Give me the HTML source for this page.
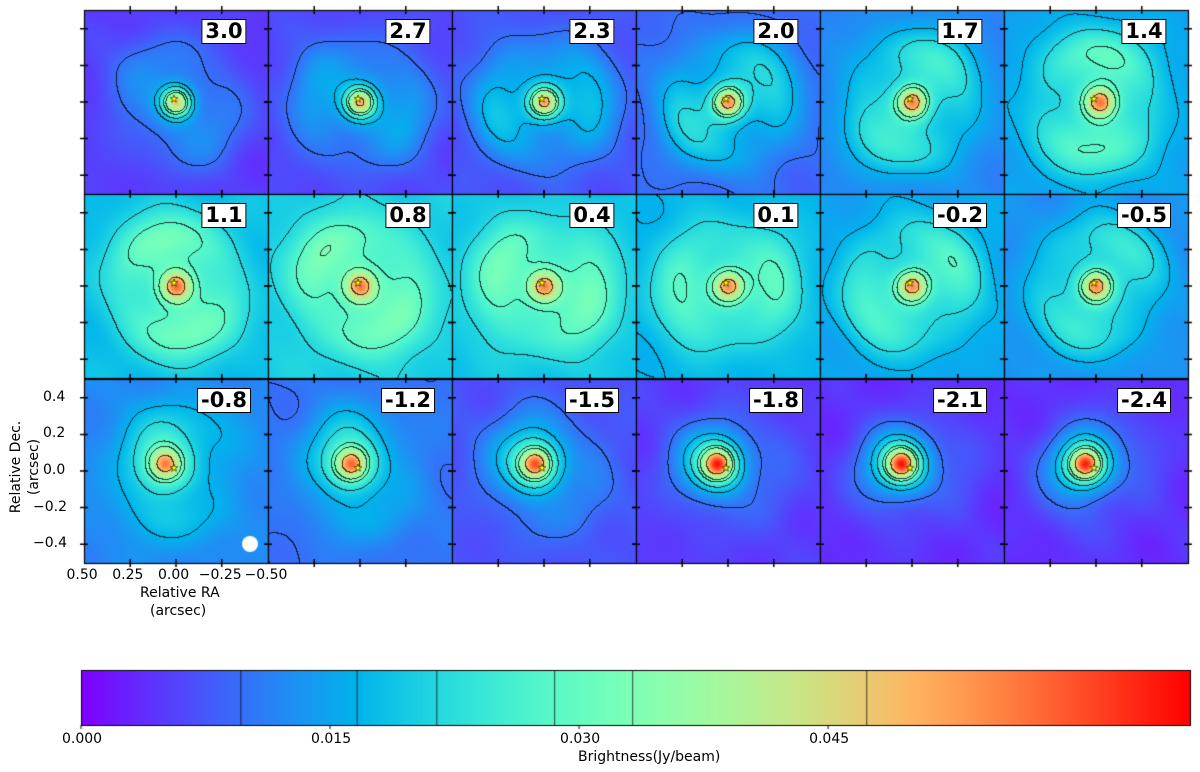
<!DOCTYPE html>
<html><head><meta charset="utf-8"><style>
body{margin:0;background:#fff;width:1200px;height:772px;overflow:hidden;position:relative;font-family:"Liberation Sans","DejaVu Sans",sans-serif}
canvas{position:absolute;left:0;top:0}
.lbl{position:absolute;background:#fff;border:1px solid #000;font-weight:bold;font-size:21px;line-height:23px;padding:0 3px;transform:translateX(-50%);font-family:"DejaVu Sans","Liberation Sans",sans-serif}
.t{position:absolute;font-size:14px;color:#000;white-space:nowrap;font-family:"DejaVu Sans","Liberation Sans",sans-serif}
</style></head><body>
<canvas id="c" width="1200" height="772"></canvas>
<div class="t" style="left:140px;top:585px">Relative RA</div>
<div class="t" style="left:150px;top:603px">(arcsec)</div>
<div class="t" style="left:-30px;top:459px;transform:rotate(-90deg)">Relative Dec.</div>
<div class="t" style="left:6px;top:459px;transform:rotate(-90deg)">(arcsec)</div>
<div class="t" style="left:578px;top:749px">Brightness(Jy/beam)</div>
<div id="ov"></div>
<script>
const velocities=["3.0","2.7","2.3","2.0","1.7","1.4","1.1","0.8","0.4","0.1","-0.2","-0.5","-0.8","-1.2","-1.5","-1.8","-2.1","-2.4"];
const background=[0.005,0.006,0.007,0.009,0.012,0.015,0.018,0.020,0.019,0.017,0.015,0.013,0.012,0.010,0.007,0.005,0.004,0.004];
const ringAmp=[0.006,0.008,0.010,0.011,0.012,0.013,0.013,0.012,0.012,0.011,0.011,0.010,0.006,0.005,0.004,0.003,0.003,0.003];
const compactAmp=[0.012,0.013,0.014,0.015,0.015,0.014,0.013,0.012,0.012,0.012,0.013,0.014,0.020,0.022,0.024,0.026,0.026,0.026];
const peakAmp=[0.030,0.030,0.030,0.030,0.028,0.027,0.026,0.024,0.024,0.025,0.026,0.027,0.024,0.027,0.030,0.034,0.035,0.035];
const peakX=[0,0,0,0,0,-0.02,0,0,0,0,0,0,0.06,0.05,0.05,0.06,0.06,0.06];
const peakY=[0,0,0,0,0,0,0,0,0,0,0,0,0.04,0.04,0.04,0.04,0.04,0.04];
const contourLevels=[0.0096,0.0166,0.0214,0.0285,0.0332,0.0473];
const cbTicks=[0,0.015,0.030,0.045];
const VMAX=0.0668;
const X0=84,Y0=10,PW=184,PH=184.3,SC=183;
const cv=document.getElementById('c'),ctx=cv.getContext('2d');
function cmap(v){let x=Math.max(0,Math.min(1,v/VMAX));return [Math.min(255,Math.abs(2*x-0.5)*255),Math.sin(Math.PI*x)*255,Math.cos(Math.PI*x/2)*255];}
function field(k,ax,ay){
  const dx=ax-peakX[k],dy=ay-peakY[k];
  const r=Math.hypot(ax,ay),th=Math.atan2(ay,ax);
  const tex=0.0008*(Math.sin(ax*11+k)*Math.cos(ay*9-k*0.7)+Math.sin((ax-ay)*14+k*1.3)*0.5);
  const ring=ringAmp[k]*Math.exp(-Math.pow((r-0.28)/0.14,2))*(0.75+0.3*Math.sin(th*2+k*0.9));
  const comp=compactAmp[k]*Math.exp(-(dx*dx+dy*dy)/(2*0.12*0.12));
  const pk=peakAmp[k]*Math.exp(-(dx*dx+dy*dy)/(2*0.05*0.05));
  return background[k]+ring+comp+pk+tex;
}
function lev(v){let n=0;for(const c of contourLevels)if(v>=c)n++;return n;}
const W=184,H=184;
for(let k=0;k<18;k++){
  const col=k%6,row=Math.floor(k/6);
  const px=Math.round(X0+col*PW),py=Math.round(Y0+row*PH);
  const img=ctx.createImageData(W,H);
  const L=new Array(W*H);const V=new Array(W*H);
  for(let j=0;j<H;j++)for(let i=0;i<W;i++){
    const ax=(W/2-i)/SC,ay=(H/2-j)/SC;const v=field(k,ax,ay);V[j*W+i]=v;L[j*W+i]=lev(v);}
  for(let j=0;j<H;j++)for(let i=0;i<W;i++){
    const id=j*W+i;let c=cmap(V[id]);
    const l=L[id];
    if((i<W-1&&L[id+1]!==l)||(j<H-1&&L[id+W]!==l)){c=[c[0]*0.25,c[1]*0.25,c[2]*0.25];}
    img.data[id*4]=c[0];img.data[id*4+1]=c[1];img.data[id*4+2]=c[2];img.data[id*4+3]=255;}
  ctx.putImageData(img,px,py);
  ctx.fillStyle='#ff0';ctx.strokeStyle='#000';ctx.lineWidth=0.6;
  ctx.beginPath();const sx=px+W/2-2,sy=py+H/2-3;
  for(let s=0;s<10;s++){const rr=s%2?1.6:4,a=-Math.PI/2+s*Math.PI/5;ctx.lineTo(sx+rr*Math.cos(a),sy+rr*Math.sin(a));}
  ctx.closePath();ctx.fill();ctx.stroke();
  ctx.strokeStyle='#000';ctx.lineWidth=1.2;ctx.strokeRect(px+0.5,py+0.5,W,H);
  ctx.lineWidth=1.5;
  for(const t of [-0.4,-0.2,0,0.2,0.4]){const yy=py+H/2-t*SC;
    ctx.beginPath();ctx.moveTo(px-4,yy);ctx.lineTo(px+4,yy);ctx.moveTo(px+W-4,yy);ctx.lineTo(px+W+4,yy);ctx.stroke();}
  for(const t of [-0.25,0,0.25]){const xx=px+W/2-t*SC;
    ctx.beginPath();ctx.moveTo(xx,py-4);ctx.lineTo(xx,py+4);ctx.moveTo(xx,py+H-4);ctx.lineTo(xx,py+H+4);ctx.stroke();}
  const d=document.createElement('div');d.className='lbl';d.textContent=velocities[k];
  d.style.left=(px+140)+'px';d.style.top=(py+9)+'px';
  
  
  document.getElementById('ov').appendChild(d);
}
ctx.fillStyle='#fff';ctx.beginPath();ctx.arc(250,544,8,0,Math.PI*2);ctx.fill();
function addT(txt,x,y,name){const d=document.createElement('div');d.className='t';d.textContent=txt;d.style.left=x+'px';d.style.top=y+'px';
  
  
  document.getElementById('ov').appendChild(d);}
const py3=Math.round(Y0+2*PH),ycen=py3+H/2;
const yt=[0.4,0.2,0.0,-0.2,-0.4];
yt.forEach(t=>{const s=(t<0?'\u2212':'')+Math.abs(t).toFixed(1);addT(s,(t<0?33:43),ycen-t*SC-9,'y-tick-label');});
const xt=[0.5,0.25,0,-0.25,-0.5];
xt.forEach(t=>{const s=(t<0?'\u2212':'')+Math.abs(t).toFixed(2);const xx=X0+W/2-t*SC;addT(s,xx-(t<0?23:18),py3+H+4,'x-tick-label');});
const CX0=81,CX1=1190,CY0=670,CY1=725;
for(let x=CX0;x<CX1;x++){const c=cmap((x-CX0)/(CX1-CX0)*VMAX);ctx.fillStyle=`rgb(${c[0]|0},${c[1]|0},${c[2]|0})`;ctx.fillRect(x,CY0,1,CY1-CY0);}
ctx.strokeStyle='rgba(0,0,0,0.7)';ctx.lineWidth=1;
contourLevels.forEach(l=>{const x=CX0+l/VMAX*(CX1-CX0);ctx.beginPath();ctx.moveTo(x+0.5,CY0);ctx.lineTo(x+0.5,CY1);ctx.stroke();});
ctx.strokeStyle='#000';ctx.strokeRect(CX0+0.5,CY0+0.5,CX1-CX0,CY1-CY0);
cbTicks.forEach(t=>{const x=CX0+t/VMAX*(CX1-CX0);ctx.beginPath();ctx.moveTo(x,CY1);ctx.lineTo(x,CY1+4);ctx.stroke();addT(t.toFixed(3),x-19,CY1+6,'colorbar-tick-label');});
</script>
</body></html>
